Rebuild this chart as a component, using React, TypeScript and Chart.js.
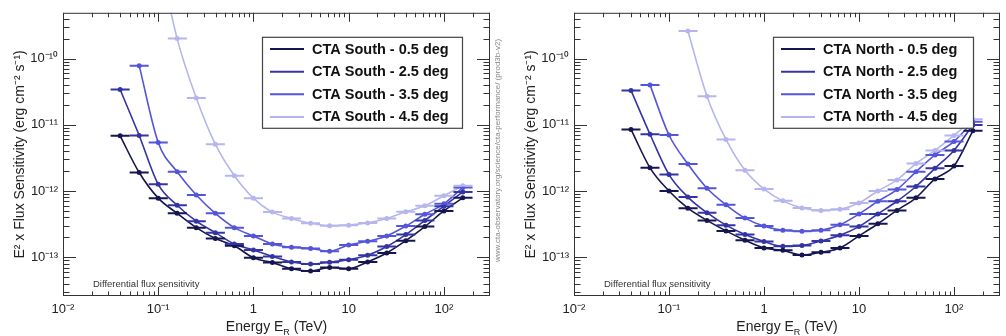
import React, { useEffect, useRef } from "react";
import { Chart, registerables } from "chart.js";

Chart.register(...registerables);

// ---- data -------------------------------------------------------------
const BIN_CENTERS_TEV = [0.0398, 0.0631, 0.1, 0.158, 0.251, 0.398, 0.631, 1.0, 1.58, 2.51, 3.98, 6.31, 10, 15.8, 25.1, 39.8, 63.1, 100, 158];
const BIN_EDGES_TEV = [0.0316, 0.0501, 0.0794, 0.126, 0.2, 0.316, 0.501, 0.794, 1.26, 2.0, 3.16, 5.01, 7.94, 12.6, 20.0, 31.6, 50.1, 79.4, 126, 200];

const SOUTH_05 = [6.8e-12, 1.9e-12, 7.8e-13, 4.6e-13, 2.8e-13, 1.92e-13, 1.49e-13, 9.8e-14, 8.3e-14, 6.7e-14, 6.2e-14, 7.0e-14, 6.7e-14, 8.5e-14, 1.16e-13, 1.78e-13, 2.9e-13, 5.0e-13, 7.9e-13];
const SOUTH_25 = [3.4e-11, 6.9e-12, 1.26e-12, 6.1e-13, 3.5e-13, 2.35e-13, 1.58e-13, 1.29e-13, 1.03e-13, 8.5e-14, 7.9e-14, 8.4e-14, 9.2e-14, 1.07e-13, 1.45e-13, 2.2e-13, 3.6e-13, 5.9e-13, 9.7e-13];
const SOUTH_35 = [null, 7.8e-11, 5.4e-12, 1.95e-12, 8.7e-13, 4.6e-13, 2.8e-13, 2.1e-13, 1.58e-13, 1.41e-13, 1.36e-13, 1.23e-13, 1.53e-13, 1.74e-13, 2.1e-13, 2.95e-13, 4.45e-13, 6.4e-13, 1.13e-12];
const SOUTH_45 = [null, null, 4e-9, 2.0e-10, 2.54e-11, 5.1e-12, 1.7e-12, 7.8e-13, 4.8e-13, 3.85e-13, 3.25e-13, 3.0e-13, 3.05e-13, 3.3e-13, 3.85e-13, 4.85e-13, 6.0e-13, 8.5e-13, 1.2e-12];

const NORTH_05 = [8.5e-12, 2.24e-12, 1.0e-12, 5.5e-13, 3.6e-13, 2.5e-13, 1.81e-13, 1.38e-13, 1.27e-13, 1.08e-13, 1.19e-13, 1.38e-13, 2.1e-13, 3.2e-13, 5.1e-13, 7.9e-13, 1.52e-12, 2.38e-12, 8.1e-12];
const NORTH_25 = [3.3e-11, 7.2e-12, 1.77e-12, 8.1e-13, 4.7e-13, 3.05e-13, 2.2e-13, 1.73e-13, 1.47e-13, 1.5e-13, 1.76e-13, 2.15e-13, 2.9e-13, 4.5e-13, 7.0e-13, 1.17e-12, 2.2e-12, 4.1e-12, 9.9e-12];
const NORTH_35 = [null, 4.0e-11, 7.0e-12, 2.55e-12, 1.1e-12, 6.2e-13, 3.9e-13, 2.95e-13, 2.56e-13, 2.47e-13, 2.56e-13, 3.1e-13, 4.5e-13, 7.0e-13, 1.05e-12, 1.95e-12, 3.5e-12, 5.6e-12, 1.11e-11];
const NORTH_45 = [null, null, null, 2.6e-10, 2.7e-11, 6.0e-12, 2.05e-12, 1.07e-12, 7.1e-13, 5.55e-13, 5.1e-13, 5.3e-13, 6.6e-13, 1.0e-12, 1.47e-12, 2.6e-12, 4.1e-12, 6.9e-12, 1.21e-11];

const OFFSET_LABELS = ["0.5 deg", "2.5 deg", "3.5 deg", "4.5 deg"];
const SERIES_COLORS = ["#16164f", "#3434a6", "#5555db", "#b6b6ef"];

const X_TICKS = [0.01, 0.1, 1, 10, 100];
const X_TICK_LABELS = ["10\u207B\u00B2", "10\u207B\u00B9", "1", "10", "10\u00B2"];
const Y_TICKS = [1e-13, 1e-12, 1e-11, 1e-10];
const Y_TICK_LABELS = ["10\u207B\u00B9\u00B3", "10\u207B\u00B9\u00B2", "10\u207B\u00B9\u00B9", "10\u207B\u00B9\u2070"];

const X_MIN = 0.01;
const X_MAX = 305;
const Y_MIN = 2.6e-14;
const Y_MAX = 4.9e-10;

const Y_TITLE = "E\u00B2 x Flux Sensitivity (erg cm\u207B\u00B2 s\u207B\u00B9)";
const NOTE_TEXT = "Differential flux sensitivity";
const URL_TEXT = "www.cta-observatory.org/science/cta-performance/ (prod3b-v2)";

const FONT = "'Liberation Sans', Arial, Helvetica, sans-serif";

// ---- plugins ------------------------------------------------------------
const errorBarPlugin = {
  id: "errorBars",
  afterDatasetsDraw(chart: any) {
    const { ctx, chartArea: a, scales } = chart;
    const xs = scales.x;
    const ys = scales.y;
    ctx.save();
    ctx.beginPath();
    ctx.rect(a.left, a.top, a.right - a.left, a.bottom - a.top);
    ctx.clip();
    chart.data.datasets.forEach((ds: any) => {
      ctx.strokeStyle = ds.borderColor;
      ctx.lineWidth = 2;
      ds.data.forEach((p: any, i: number) => {
        if (p.y == null) return;
        const y = ys.getPixelForValue(p.y);
        const x0 = xs.getPixelForValue(BIN_EDGES_TEV[i]);
        const x1 = xs.getPixelForValue(BIN_EDGES_TEV[i + 1]);
        ctx.beginPath();
        ctx.moveTo(x0, y);
        ctx.lineTo(x1, y);
        ctx.stroke();
      });
    });
    ctx.restore();
  },
};

const framePlugin = {
  id: "rootFrame",
  afterDraw(chart: any, _args: any, opts: any) {
    const { ctx, chartArea: a, scales } = chart;
    const xs = scales.x;
    const ys = scales.y;
    ctx.save();
    ctx.strokeStyle = "#333";
    ctx.lineWidth = 1;
    ctx.strokeRect(a.left + 0.5, a.top + 0.5, a.right - a.left - 1, a.bottom - a.top - 1);
    ctx.beginPath();
    for (let e = -2; e <= 2; e++) {
      for (let m = 1; m <= 9; m++) {
        const v = m * Math.pow(10, e);
        if (v < xs.min || v > xs.max) continue;
        const px = Math.round(xs.getPixelForValue(v)) + 0.5;
        const len = m === 1 ? 9 : 4.5;
        ctx.moveTo(px, a.bottom);
        ctx.lineTo(px, a.bottom - len);
        ctx.moveTo(px, a.top);
        ctx.lineTo(px, a.top + len);
      }
    }
    for (let e = -14; e <= -10; e++) {
      for (let m = 1; m <= 9; m++) {
        const v = m * Math.pow(10, e);
        if (v < ys.min || v > ys.max) continue;
        const py = Math.round(ys.getPixelForValue(v)) + 0.5;
        const len = m === 1 ? 13 : 6.5;
        ctx.moveTo(a.left, py);
        ctx.lineTo(a.left + len, py);
        ctx.moveTo(a.right, py);
        ctx.lineTo(a.right - len, py);
      }
    }
    ctx.stroke();

    // axis titles
    ctx.fillStyle = "#222";
    ctx.font = `14px ${FONT}`;
    ctx.textAlign = "center";
    ctx.textBaseline = "middle";
    ctx.save();
    ctx.translate(a.left - 43, (a.top + a.bottom) / 2);
    ctx.rotate(-Math.PI / 2);
    ctx.fillText(Y_TITLE, 0, 0);
    ctx.restore();

    const cx = (a.left + a.right) / 2;
    const base = chart.height - 5;
    ctx.textBaseline = "alphabetic";
    ctx.textAlign = "left";
    const p1 = "Energy E";
    const p2 = "R";
    const p3 = " (TeV)";
    ctx.font = `14px ${FONT}`;
    const w1 = ctx.measureText(p1).width;
    const w3 = ctx.measureText(p3).width;
    ctx.font = `9px ${FONT}`;
    const w2 = ctx.measureText(p2).width;
    let x = cx - (w1 + w2 + w3) / 2;
    ctx.font = `14px ${FONT}`;
    ctx.fillText(p1, x, base);
    x += w1;
    ctx.font = `9px ${FONT}`;
    ctx.fillText(p2, x, base + 4);
    x += w2;
    ctx.font = `14px ${FONT}`;
    ctx.fillText(p3, x, base);

    // note inside the frame
    ctx.font = `9.5px ${FONT}`;
    ctx.fillStyle = "#333";
    ctx.textBaseline = "middle";
    ctx.fillText(NOTE_TEXT, a.left + 30, a.bottom - 12);

    // url annotation
    if (opts && opts.showUrl) {
      ctx.save();
      ctx.translate(a.right + 8, 262);
      ctx.rotate(-Math.PI / 2);
      ctx.font = `8px ${FONT}`;
      ctx.fillStyle = "#888";
      ctx.textAlign = "left";
      ctx.fillText(URL_TEXT, 0, 0);
      ctx.restore();
    }

    // legend
    const bx = a.left + 199;
    const by = a.top + 24;
    const bw = 200;
    const bh = 91;
    ctx.fillStyle = "#fff";
    ctx.fillRect(bx, by, bw, bh);
    ctx.strokeStyle = "#444";
    ctx.lineWidth = 1.2;
    ctx.strokeRect(bx + 0.5, by + 0.5, bw, bh);
    chart.data.datasets.forEach((ds: any, i: number) => {
      const ry = by + 12.3 + i * 22.6;
      ctx.strokeStyle = ds.borderColor;
      ctx.lineWidth = 2;
      ctx.beginPath();
      ctx.moveTo(bx + 8, ry);
      ctx.lineTo(bx + 42, ry);
      ctx.stroke();
      ctx.fillStyle = "#111";
      ctx.font = `bold 14.5px ${FONT}`;
      ctx.textAlign = "left";
      ctx.textBaseline = "middle";
      ctx.fillText(ds.label, bx + 50, ry + 0.5);
    });
    ctx.restore();
  },
};

// ---- chart component ---------------------------------------------------
type Props = {
  site: string;
  series: (number | null)[][];
  yAxisWidth: number;
  rightPad: number;
  showUrl: boolean;
  left: number;
};

function SensitivityChart({ site, series, yAxisWidth, rightPad, showUrl, left }: Props) {
  const ref = useRef<HTMLCanvasElement>(null);
  useEffect(() => {
    if (!ref.current) return;
    const datasets = series.map((vals, si) => ({
      label: `CTA ${site} - ${OFFSET_LABELS[si]}`,
      data: BIN_CENTERS_TEV.map((x, i) => ({ x, y: vals[i] })),
      borderColor: SERIES_COLORS[si],
      backgroundColor: SERIES_COLORS[si],
      borderWidth: 1.6,
      pointRadius: 1.7,
      pointHoverRadius: 0,
      cubicInterpolationMode: "monotone" as const,
      spanGaps: false,
    }));
    const chart = new Chart(ref.current, {
      type: "line",
      data: { datasets },
      options: {
        responsive: false,
        animation: false,
        events: [],
        layout: { padding: { top: 8, right: rightPad, left: 0, bottom: 0 } },
        plugins: {
          legend: { display: false },
          tooltip: { enabled: false },
          rootFrame: { showUrl },
        } as any,
        scales: {
          x: {
            type: "logarithmic",
            min: X_MIN,
            max: X_MAX,
            afterFit: (s: any) => {
              s.height = 40;
            },
            afterBuildTicks: (s: any) => {
              s.ticks = X_TICKS.map((v) => ({ value: v }));
            },
            ticks: {
              autoSkip: false,
              maxRotation: 0,
              padding: 6,
              color: "#222",
              font: { family: FONT, size: 13 },
              callback: (_v: any, i: number) => X_TICK_LABELS[i],
            },
            grid: { display: false, drawTicks: false },
            border: { display: false },
          },
          y: {
            type: "logarithmic",
            min: Y_MIN,
            max: Y_MAX,
            afterFit: (s: any) => {
              s.width = yAxisWidth;
            },
            afterBuildTicks: (s: any) => {
              s.ticks = Y_TICKS.map((v) => ({ value: v }));
            },
            ticks: {
              autoSkip: false,
              padding: 5,
              color: "#222",
              font: { family: FONT, size: 13 },
              callback: (_v: any, i: number) => Y_TICK_LABELS[i],
            },
            grid: { display: false, drawTicks: false },
            border: { display: false },
          },
        },
      } as any,
      plugins: [errorBarPlugin, framePlugin],
    });
    return () => chart.destroy();
  }, [site, series, yAxisWidth, rightPad, showUrl]);
  return (
    <canvas
      ref={ref}
      width={503}
      height={336}
      style={{ position: "absolute", left, top: 0, width: 503, height: 336 }}
    />
  );
}

const SOUTH_SERIES = [SOUTH_05, SOUTH_25, SOUTH_35, SOUTH_45];
const NORTH_SERIES = [NORTH_05, NORTH_25, NORTH_35, NORTH_45];

export default function App() {
  return (
    <div
      style={{
        position: "absolute",
        left: 0,
        top: 0,
        width: 1006,
        height: 336,
        background: "#fff",
        overflow: "hidden",
      }}
    >
      <SensitivityChart site="South" series={SOUTH_SERIES} yAxisWidth={63} rightPad={13} showUrl={true} left={0} />
      <SensitivityChart site="North" series={NORTH_SERIES} yAxisWidth={71} rightPad={6} showUrl={false} left={503} />
    </div>
  );
}
